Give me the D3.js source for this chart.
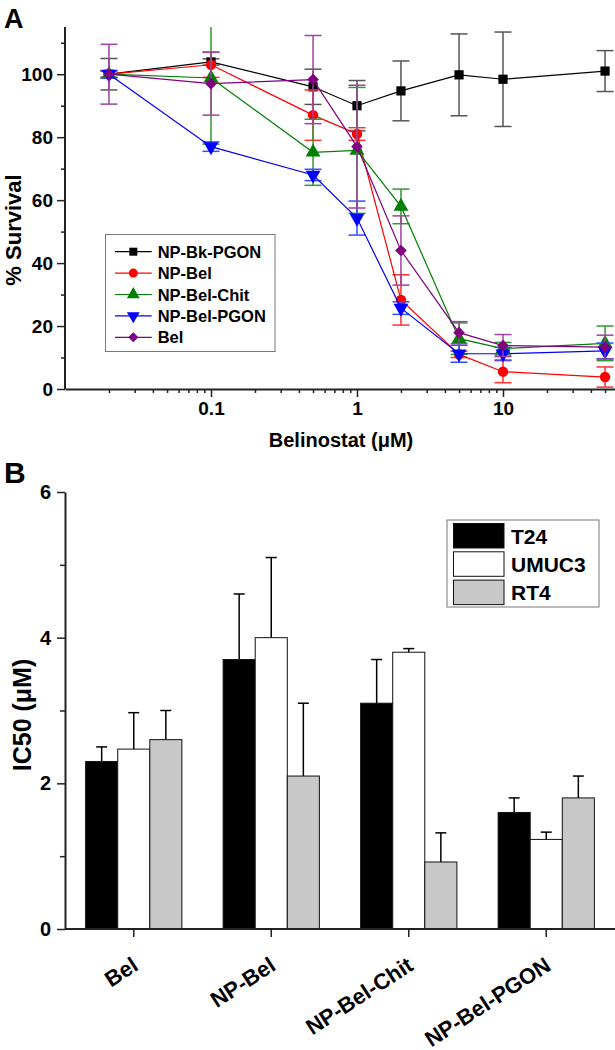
<!DOCTYPE html>
<html>
<head>
<meta charset="utf-8">
<script src="https://cdn.jsdelivr.net/npm/d3@7"></script>
<style>
body { margin: 0; background: #fff; }
svg { font-family: "Liberation Sans", Arial, sans-serif; font-weight: bold; }
</style>
</head>
<body>
<svg width="615" height="1050"></svg>
<script>
// ---- panel A: survival vs concentration
const conc = [0.02, 0.1, 0.5, 1, 2, 5, 10, 50]
const seriesNames = ['NP-Bk-PGON', 'NP-Bel', 'NP-Bel-Chit', 'NP-Bel-PGON', 'Bel']
const npBkPgon    = [100, 103.9, 96, 90, 94.7, 99.8, 98.4, 101]
const npBkPgonErr = [5, 1, 5.6, 8, 9.5, 13, 15, 6.5]
const npBel       = [100, 103, 87, 81, 28.3, 11, 5.5, 3.8]
const npBelErr    = [1, 4, 8, 2, 8, 1, 3.5, 3.2]
const npBelChit   = [100, 98.8, 75.2, 75.8, 58, 16, 12.8, 14.5]
const npBelChitErr= [1, 21, 10.5, 20, 5.5, 5, 2, 5.5]
const npBelPgon   = [100, 77, 68, 54.3, 25.7, 11.2, 11.2, 12.1]
const npBelPgonErr= [1.2, 1.5, 1.8, 5.4, 2, 2.7, 2, 2.5]
const bel         = [100, 97, 98.3, 77, 44, 17.9, 13.8, 13.3]
const belErr      = [9.5, 10, 14, 19.5, 11, 3.5, 3.5, 3.8]
const survivalTicks = [0, 20, 40, 60, 80, 100]

// ---- panel B: IC50 bars
const groups = ['Bel', 'NP-Bel', 'NP-Bel-Chit', 'NP-Bel-PGON']
const cellLines = ['T24', 'UMUC3', 'RT4']
const t24      = [2.3, 3.7, 3.1, 1.6]
const t24Err   = [0.2, 0.9, 0.6, 0.2]
const umuc3    = [2.47, 4.0, 3.8, 1.23]
const umuc3Err = [0.5, 1.1, 0.05, 0.1]
const rt4      = [2.6, 2.1, 0.92, 1.8]
const rt4Err   = [0.4, 1.0, 0.4, 0.3]
const ic50Ticks = [0, 2, 4, 6]

const svg = d3.select('svg')

// ================= panel A
const AX0 = 65, AX1 = 615, AY0 = 389, AY1 = 27
const x = d3.scaleLog().domain([0.01, 58.5]).range([AX0, AX1])
const y = d3.scaleLinear().domain([0, 115]).range([AY0, AY1])

const series = [
  {name: seriesNames[0], vals: npBkPgon, err: npBkPgonErr, color: '#000', ecol: '#555', sym: d3.symbolSquare, size: 85, rot: 0},
  {name: seriesNames[1], vals: npBel, err: npBelErr, color: '#ff0000', ecol: '#ff3030', sym: d3.symbolCircle, size: 85, rot: 0},
  {name: seriesNames[2], vals: npBelChit, err: npBelChitErr, color: '#008000', ecol: '#2f9a2f', sym: d3.symbolTriangle, size: 95, rot: 0},
  {name: seriesNames[3], vals: npBelPgon, err: npBelPgonErr, color: '#0000ff', ecol: '#3050ff', sym: d3.symbolTriangle, size: 95, rot: 180},
  {name: seriesNames[4], vals: bel, err: belErr, color: '#800080', ecol: '#a040a0', sym: d3.symbolSquare, size: 68, rot: 45}
]

svg.append('defs').append('clipPath').attr('id', 'clipA')
  .append('rect').attr('x', AX0).attr('y', AY1).attr('width', AX1 - AX0 + 5).attr('height', AY0 - AY1)

const plotA = svg.append('g').attr('clip-path', 'url(#clipA)')

const line = d3.line().x((d, i) => x(conc[i])).y(d => y(d))

series.forEach(s => {
  const g = plotA.append('g')
  // error bars
  const eb = g.selectAll('.eb').data(s.vals).enter().append('g')
  eb.append('line')
    .attr('x1', (d, i) => x(conc[i])).attr('x2', (d, i) => x(conc[i]))
    .attr('y1', (d, i) => y(d - s.err[i])).attr('y2', (d, i) => y(d + s.err[i]))
  eb.append('line')
    .attr('x1', (d, i) => x(conc[i]) - 8.5).attr('x2', (d, i) => x(conc[i]) + 8.5)
    .attr('y1', (d, i) => y(d + s.err[i])).attr('y2', (d, i) => y(d + s.err[i]))
  eb.append('line')
    .attr('x1', (d, i) => x(conc[i]) - 8.5).attr('x2', (d, i) => x(conc[i]) + 8.5)
    .attr('y1', (d, i) => y(d - s.err[i])).attr('y2', (d, i) => y(d - s.err[i]))
  eb.selectAll('line').attr('stroke', s.ecol).attr('stroke-width', 1.5)

  g.append('path').datum(s.vals)
    .attr('d', line).attr('fill', 'none')
    .attr('stroke', s.color).attr('stroke-width', 1.2)

  g.selectAll('.pt').data(s.vals).enter().append('path')
    .attr('d', d3.symbol().type(s.sym).size(s.size))
    .attr('transform', (d, i) => `translate(${x(conc[i])},${y(d)}) rotate(${s.rot})`)
    .attr('fill', s.color)
})

// axes A
const yMinor = svg.append('g').attr('transform', `translate(${AX0},0)`)
  .call(d3.axisLeft(y).tickValues(d3.range(10, 111, 20)).tickSize(4).tickFormat(''))
yMinor.select('.domain').remove()
const yMajor = svg.append('g').attr('transform', `translate(${AX0},0)`)
  .call(d3.axisLeft(y).tickValues(survivalTicks).tickSize(8).tickPadding(4).tickSizeOuter(0))
yMajor.select('.domain').attr('d', `M0,${AY1}V${AY0}`)

const minorConc = []
for (const dec of [0.01, 0.1, 1, 10]) {
  for (let k = 2; k <= 9; k++) if (dec * k <= 58) minorConc.push(dec * k)
}
const xMinor = svg.append('g').attr('transform', `translate(0,${AY0})`)
  .call(d3.axisBottom(x).tickValues(minorConc).tickSize(4).tickFormat(''))
xMinor.select('.domain').remove()
const xMajor = svg.append('g').attr('transform', `translate(0,${AY0})`)
  .call(d3.axisBottom(x).tickValues([0.1, 1, 10]).tickSize(8).tickPadding(5)
    .tickFormat(d3.format('~g')).tickSizeOuter(0))

svg.selectAll('.tick text').attr('font-size', 19).attr('fill', '#000')
svg.selectAll('.domain').attr('stroke', '#222').attr('stroke-width', 2)
svg.selectAll('.tick line').attr('stroke', '#222').attr('stroke-width', 1.5)

svg.append('text').attr('x', 4).attr('y', 28).attr('font-size', 27).text('A')
svg.append('text').attr('transform', 'translate(21,230) rotate(-90)')
  .attr('text-anchor', 'middle').attr('font-size', 22).text('% Survival')
svg.append('text').attr('x', 341).attr('y', 447).attr('text-anchor', 'middle')
  .attr('font-size', 20).text('Belinostat (\u03bcM)')

// legend A
const legA = svg.append('g')
legA.append('rect').attr('x', 105.5).attr('y', 234.5).attr('width', 169.5).attr('height', 117)
  .attr('fill', '#fff').attr('stroke', '#777').attr('stroke-width', 1)
series.forEach((s, i) => {
  const ly = 251.7 + i * 21.4
  legA.append('line').attr('x1', 115).attr('x2', 151.7).attr('y1', ly).attr('y2', ly)
    .attr('stroke', s.color).attr('stroke-width', 1.2)
  legA.append('path').attr('d', d3.symbol().type(s.sym).size(s.size * 0.75))
    .attr('transform', `translate(133.3,${ly}) rotate(${s.rot})`).attr('fill', s.color)
  legA.append('text').attr('x', 157.7).attr('y', ly + 6).attr('font-size', 16.5).text(s.name)
})

// ================= panel B
const BX0 = 65, BX1 = 615, BY0 = 929, BY1 = 492
const xb = d3.scaleBand().domain(groups).range([BX0, BX1]).paddingInner(0.3).paddingOuter(0.15)
const xs = d3.scaleBand().domain(cellLines).range([0, xb.bandwidth()])
const yb = d3.scaleLinear().domain([0, 6]).range([BY0, BY1])

const barVals = {T24: t24, UMUC3: umuc3, RT4: rt4}
const barErrs = {T24: t24Err, UMUC3: umuc3Err, RT4: rt4Err}
const barFill = {T24: '#000', UMUC3: '#fff', RT4: '#c8c8c8'}

const barData = []
groups.forEach((gname, gi) => cellLines.forEach(c => {
  barData.push({group: gname, line: c, v: barVals[c][gi], e: barErrs[c][gi]})
}))

const bars = svg.append('g')
bars.selectAll('.err').data(barData).enter().append('g').each(function(d) {
  const cx = xb(d.group) + xs(d.line) + xs.bandwidth() / 2
  const g = d3.select(this)
  g.append('line').attr('x1', cx).attr('x2', cx).attr('y1', yb(d.v)).attr('y2', yb(d.v + d.e))
  g.append('line').attr('x1', cx - 5.5).attr('x2', cx + 5.5).attr('y1', yb(d.v + d.e)).attr('y2', yb(d.v + d.e))
  g.selectAll('line').attr('stroke', '#000').attr('stroke-width', 1.5)
})
bars.selectAll('.bar').data(barData).enter().append('rect')
  .attr('x', d => xb(d.group) + xs(d.line))
  .attr('y', d => yb(d.v))
  .attr('width', xs.bandwidth())
  .attr('height', d => BY0 - yb(d.v))
  .attr('fill', d => barFill[d.line])
  .attr('stroke', '#111').attr('stroke-width', 1)

const ybMinor = svg.append('g').attr('transform', `translate(${BX0},0)`)
  .call(d3.axisLeft(yb).tickValues([1, 3, 5]).tickSize(5).tickFormat(''))
ybMinor.select('.domain').remove()
const ybMajor = svg.append('g').attr('transform', `translate(${BX0},0)`)
  .call(d3.axisLeft(yb).tickValues(ic50Ticks).tickFormat(d3.format('d'))
    .tickSize(8).tickPadding(6).tickSizeOuter(0))
ybMajor.selectAll('.tick text').attr('font-size', 20)

const xbAxis = svg.append('g').attr('transform', `translate(0,${BY0})`)
  .call(d3.axisBottom(xb).tickSize(8).tickSizeOuter(0))
xbAxis.select('.domain').attr('d', `M${BX0},0H${BX1}`)
xbAxis.selectAll('.tick text')
  .attr('font-size', 22).attr('text-anchor', 'end')
  .attr('dy', 0).attr('y', 0)
  .attr('transform', 'translate(6,40) rotate(-33)')

svg.selectAll('.tick text').attr('fill', '#000')
svg.selectAll('.domain').attr('stroke', '#222').attr('stroke-width', 2)
svg.selectAll('.tick line').attr('stroke', '#222').attr('stroke-width', 1.5)

svg.append('text').attr('x', 4).attr('y', 483).attr('font-size', 30).text('B')
svg.append('text').attr('transform', 'translate(31,715) rotate(-90)')
  .attr('text-anchor', 'middle').attr('font-size', 25).text('IC50 (\u03bcM)')

// legend B
const legB = svg.append('g')
legB.append('rect').attr('x', 447).attr('y', 520).attr('width', 152).attr('height', 87)
  .attr('fill', '#fff').attr('stroke', '#777').attr('stroke-width', 1)
cellLines.forEach((c, i) => {
  const top = 523.5 + i * 28.3
  legB.append('rect').attr('x', 453.5).attr('y', top).attr('width', 50.5).attr('height', 24.5)
    .attr('fill', barFill[c]).attr('stroke', '#111').attr('stroke-width', 1)
  legB.append('text').attr('x', 511).attr('y', top + 20).attr('font-size', 21).text(c)
})
</script>
</body>
</html>
